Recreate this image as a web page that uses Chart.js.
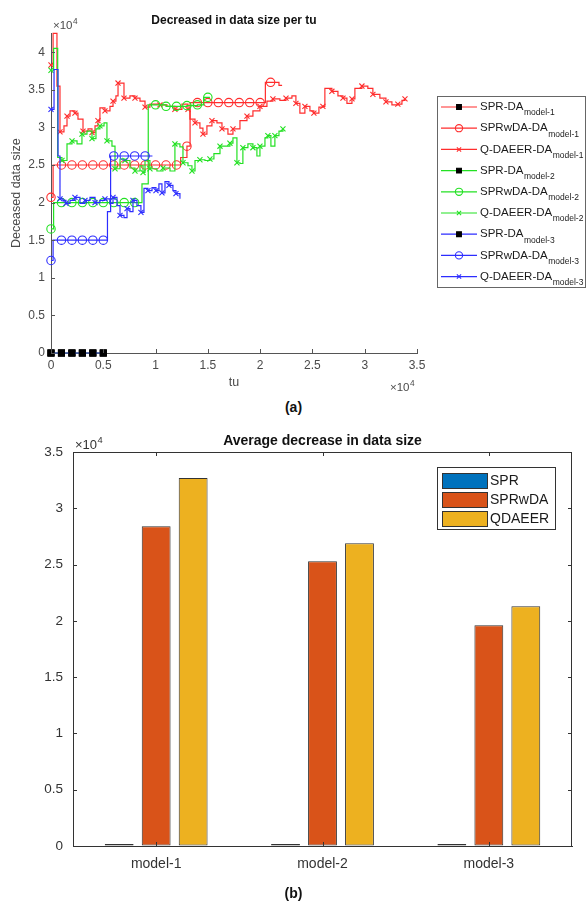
<!DOCTYPE html>
<html>
<head>
<meta charset="utf-8">
<script src="https://cdn.jsdelivr.net/npm/chart.js@4.4.0/dist/chart.umd.min.js"></script>
<style>
  body { margin: 0; background: #fff; }
  #wrap { position: relative; width: 587px; height: 919px; font-family: "Liberation Sans", Arial, sans-serif; }
  canvas { position: absolute; left: 0; }
  .cap { position: absolute; left: 0; width: 587px; text-align: center; font-weight: bold; font-size: 14px; color: #111; }
</style>
</head>
<body>
<div id="wrap">
  <canvas id="lineChart" width="587" height="398" style="top:0"></canvas>
  <div class="cap" style="top:399px">(a)</div>
  <canvas id="barChart" width="587" height="462" style="top:428px"></canvas>
  <div class="cap" style="top:885px">(b)</div>
</div>
<script>
// ---------- data (a): [tu, decreased data size] ----------
const models = ['model-1', 'model-2', 'model-3'];
const methods = ['SPR-DA', 'SPRwDA-DA', 'Q-DAEER-DA'];
const xTicksA = [0, 5000, 10000, 15000, 20000, 25000, 30000, 35000];
const yTicksA = [0, 5000, 10000, 15000, 20000, 25000, 30000, 35000, 40000];

const sprM1 = [[0,0],[1000,0],[2000,0],[3000,0],[4000,0],[5000,0]];
const sprM2 = [[0,0],[1000,0],[2000,0],[3000,0],[4000,0],[5000,0]];
const sprM3 = [[0,0],[1000,0],[2000,0],[3000,0],[4000,0],[5000,0]];

const sprwdaM1 = [[0,20700],[200,25000],[1000,25000],[2000,25000],[3000,25000],[4000,25000],[5000,25000],
  [6000,25000],[7000,25000],[8000,25000],[9000,25000],[10000,25000],[11000,25000],[12000,25000],
  [12400,26000],[13000,27500],[13300,33300],[14000,33300],[15000,33300],[16000,33300],[17000,33300],
  [18000,33300],[19000,33300],[20000,33300],[20500,36000],[21000,36000],[21800,35600],[22100,35600]];
const sprwdaM2 = [[0,16500],[250,20000],[1000,20000],[2000,20000],[3000,20000],[4000,20000],[5000,20000],
  [6000,20000],[7000,20000],[8000,20000],[8700,22500],[9300,33000],[10000,33000],[11000,32800],
  [12000,32800],[13000,32900],[14000,33000],[14600,34000],[15000,34000],[15200,34000]];
const sprwdaM3 = [[0,12300],[200,15000],[1000,15000],[2000,15000],[3000,15000],[4000,15000],[5000,15000],
  [5400,18800],[5700,26200],[6000,26200],[7000,26200],[8000,26200],[9000,26200],[9700,26200]];

const qdaeerM1 = [[0,38300],[200,42500],[570,35500],[860,29400],[1240,30200],[1530,31500],[1820,32200],
  [2290,31900],[2580,31100],[3060,29500],[3540,29800],[3920,29300],[4210,30200],[4490,30900],[4680,32600],
  [5160,32200],[5640,32800],[5930,33500],[6210,34200],[6410,35900],[6880,35900],[6980,33900],[7550,34200],
  [8030,33900],[8510,33500],[8990,32700],[9460,33100],[10420,33000],[11090,32800],[11850,32400],
  [12520,33100],[13100,32400],[13290,31100],[13770,30600],[14240,29900],[14530,29100],[14910,30200],
  [15390,30900],[15870,30600],[16350,29800],[16920,29100],[17400,29800],[18070,30900],[18740,31500],
  [19310,32200],[19980,32800],[20650,33500],[21220,33800],[21890,33600],[22470,33900],[23040,34200],
  [23420,33200],[23800,31900],[24280,32800],[24760,32200],[25140,31900],[25620,32700],[26000,32800],
  [26190,35200],[26860,34800],[27440,34200],[27920,33900],[28300,33200],[28780,33800],[29060,35200],
  [29730,35500],[30300,35200],[30780,34400],[31450,33900],[32030,33400],[32600,33000],[33170,33100],
  [33560,33600],[33850,33800]];
const qdaeerM2 = [[0,37600],[250,40500],[640,26000],[1050,25600],[1530,27800],[2010,28200],[2490,27800],
  [2960,29100],[3440,29500],[3920,28500],[4300,29800],[4680,30200],[5070,30600],[5350,28200],[5830,27500],
  [6120,24500],[6600,25800],[7070,25600],[7550,24600],[8030,24200],[8510,24900],[8800,24000],[8990,25600],
  [9460,24500],[10130,24200],[10710,24600],[11380,24200],[11850,27800],[12330,27400],[12620,25300],
  [13100,24900],[13480,24200],[13770,25600],[14240,25700],[14720,25600],[15200,25800],[15580,26500],
  [16160,27500],[16630,27500],[17110,27900],[17400,28600],[17780,25300],[18070,25200],[18350,27300],
  [18830,27800],[19310,27300],[19690,26200],[19980,27500],[20460,28600],[20740,28900],[21030,27500],
  [21410,28900],[21800,29500],[22180,29800]];
const qdaeerM3 = [[0,32400],[290,37700],[670,26200],[860,20500],[1150,20300],[1430,19900],[1820,20300],
  [2290,20700],[2770,19900],[3250,20300],[3730,20700],[4210,20000],[4680,20300],[5160,20500],[5640,19900],
  [5930,20700],[6310,19600],[6600,18300],[6980,18000],[7270,19200],[7550,18800],[7840,20300],[8220,19600],
  [8600,18700],[8890,21900],[9270,21600],[9660,22000],[10040,21600],[10320,22500],[10610,21300],
  [10900,22800],[11280,22300],[11660,21600],[11950,21200],[12330,20500]];

// ---------- data (b) ----------
const barCats = ['model-1', 'model-2', 'model-3'];
const barNames = ['SPR', 'SPRwDA', 'QDAEER'];
const barSPR = [0, 0, 0];
const barSPRwDA = [28400, 25300, 19600];
const barQDAEER = [32700, 26900, 21300];

// ---------- styles ----------
const FONT = '"Liberation Sans", Arial, sans-serif';
Chart.defaults.font.family = FONT;
const lineColors = ['rgb(255,45,45)', 'rgb(35,225,35)', 'rgb(45,45,255)'];
const markerStyles = ['rect', 'circle', 'crossRot'];
const markerSizes = [4.2, 4.2, 3.6];
const legendSizes = [3.4, 3.6, 3];
const barColors = ['#0072BD', '#D95319', '#EDB120'];

function showMarker(k, ctx) {
  const i = ctx.dataIndex;
  if (k === 2) return i === 0 || (i > 2 && i % 2 === 1);
  return ctx.raw && ctx.raw.x % 1000 === 0;
}

function drawExponent(ctx, x, y, size, color) {
  ctx.save();
  ctx.fillStyle = color;
  ctx.textAlign = 'left';
  ctx.textBaseline = 'alphabetic';
  ctx.font = size + 'px ' + FONT;
  ctx.fillText('\u00d710', x, y);
  const w = ctx.measureText('\u00d710').width;
  ctx.font = (size * 0.72) + 'px ' + FONT;
  ctx.fillText('4', x + w + 0.5, y - size * 0.45);
  ctx.restore();
}

function strokeLine(ctx, x1, y1, x2, y2) {
  ctx.beginPath(); ctx.moveTo(x1, y1); ctx.lineTo(x2, y2); ctx.stroke();
}

// inward ticks (+ optional box) like the original plots
const axisDeco = {
  id: 'axisDeco',
  afterDraw(chart, args, opts) {
    const {ctx, chartArea: a, scales} = chart;
    ctx.save();
    ctx.strokeStyle = opts.color;
    ctx.lineWidth = 1;
    const t = opts.tick;
    scales.y.ticks.forEach((tk, i) => {
      const py = Math.round(scales.y.getPixelForTick(i)) + 0.5;
      strokeLine(ctx, a.left, py, a.left + t, py);
      if (opts.box) strokeLine(ctx, a.right, py, a.right - t, py);
    });
    scales.x.ticks.forEach((tk, i) => {
      const px = Math.round(scales.x.getPixelForTick(i)) + 0.5;
      strokeLine(ctx, px, a.bottom, px, a.bottom - t);
      if (opts.box) strokeLine(ctx, px, a.top, px, a.top + t);
    });
    if (opts.box) {
      strokeLine(ctx, a.left, Math.round(a.top) + 0.5, a.right, Math.round(a.top) + 0.5);
      strokeLine(ctx, Math.round(a.right) - 0.5, a.top, Math.round(a.right) - 0.5, a.bottom);
    }
    ctx.restore();
    (opts.exps || []).forEach(e => drawExponent(ctx, e[0], e[1], e[2], opts.textColor));
  }
};

// legend with subscripts for chart (a)
const lineLegend = {
  id: 'lineLegend',
  afterDraw(chart) {
    const ctx = chart.ctx;
    ctx.save();
    ctx.fillStyle = '#fff';
    ctx.strokeStyle = '#666';
    ctx.lineWidth = 1;
    ctx.fillRect(437.5, 96.5, 148, 191);
    ctx.strokeRect(437.5, 96.5, 148, 191);
    chart.data.datasets.forEach((ds, i) => {
      const cy = 107 + i * 21.2;
      ctx.strokeStyle = ds.borderColor;
      ctx.lineWidth = 1.2;
      strokeLine(ctx, 441, cy, 477, cy);
      ctx.fillStyle = ds.pointBackgroundColor;
      ctx.strokeStyle = ds.pointBorderColor;
      ctx.lineWidth = ds.pointBorderWidth;
      Chart.helpers.drawPoint(ctx, {pointStyle: ds.pointStyle, radius: legendSizes[ds.kind],
        borderWidth: ds.pointBorderWidth, rotation: 0}, 459, cy);
      ctx.fillStyle = '#1a1a1a';
      ctx.textAlign = 'left';
      ctx.textBaseline = 'middle';
      ctx.font = '11.5px ' + FONT;
      ctx.fillText(ds.mainLabel, 480, cy);
      const w = ctx.measureText(ds.mainLabel).width;
      ctx.font = '8.5px ' + FONT;
      ctx.fillText(ds.subLabel, 480 + w + 0.5, cy + 6);
    });
    ctx.restore();
  }
};

// legend inside the axes for chart (b)
const barLegend = {
  id: 'barLegend',
  afterDraw(chart) {
    const ctx = chart.ctx;
    ctx.save();
    ctx.fillStyle = '#fff';
    ctx.strokeStyle = '#333';
    ctx.lineWidth = 1;
    ctx.fillRect(437.5, 39.5, 118, 62);
    ctx.strokeRect(437.5, 39.5, 118, 62);
    chart.data.datasets.forEach((ds, i) => {
      const cy = 53 + i * 19;
      ctx.fillStyle = ds.backgroundColor;
      ctx.fillRect(442.5, cy - 7.5, 45, 15);
      ctx.strokeRect(442.5, cy - 7.5, 45, 15);
      ctx.fillStyle = '#1a1a1a';
      ctx.textAlign = 'left';
      ctx.textBaseline = 'middle';
      ctx.font = '14px ' + FONT;
      ctx.fillText(ds.label, 490, cy + 0.5);
    });
    ctx.restore();
  }
};

// ---------- chart (a) ----------
const seriesTable = [
  [sprM1, sprwdaM1, qdaeerM1],
  [sprM2, sprwdaM2, qdaeerM2],
  [sprM3, sprwdaM3, qdaeerM3]
];
const lineSets = [];
seriesTable.forEach((row, m) => row.forEach((pts, k) => {
  lineSets.push({
    label: methods[k] + ' ' + models[m],
    mainLabel: methods[k],
    subLabel: models[m],
    kind: k,
    data: pts.map(p => ({x: p[0], y: p[1]})),
    borderColor: lineColors[m],
    borderWidth: 1.2,
    stepped: true,
    fill: false,
    clip: false,
    pointStyle: markerStyles[k],
    pointRadius: ctx => showMarker(k, ctx) ? markerSizes[k] : 0,
    pointBorderColor: k === 0 ? '#000' : lineColors[m],
    pointBackgroundColor: k === 0 ? '#000' : 'rgba(0,0,0,0)',
    pointBorderWidth: 1.1,
    order: 9 - lineSets.length
  });
}));

const gray = '#4a4a4a';
new Chart(document.getElementById('lineChart'), {
  type: 'line',
  data: {datasets: lineSets},
  options: {
    responsive: false,
    animation: false,
    events: [],
    layout: {padding: {left: 0, right: 170, top: 0, bottom: 0}},
    plugins: {
      legend: {display: false},
      tooltip: {enabled: false},
      title: {display: true, text: 'Decreased in data size per tu', fullSize: false, color: '#111',
        font: {size: 12, weight: 'bold'}, padding: {top: 13, bottom: 6}},
      axisDeco: {color: '#555', tick: 4, box: false, textColor: gray,
        exps: [[53, 29, 11.5], [390, 391, 11.5]]}
    },
    scales: {
      x: {
        type: 'linear', min: 0, max: 35000,
        afterBuildTicks: s => { s.ticks = xTicksA.map(v => ({value: v})); },
        ticks: {callback: v => v / 1e4, color: gray, font: {size: 12}, padding: 5, maxRotation: 0, autoSkip: false},
        grid: {display: true, drawOnChartArea: false, drawTicks: false},
        border: {display: true, color: '#555', width: 1},
        title: {display: true, text: 'tu', color: gray, font: {size: 12.5}, padding: {top: 0, bottom: 8}},
        afterFit: s => { s.height = 45; }
      },
      y: {
        type: 'linear', min: 0, max: 42500,
        afterBuildTicks: s => { s.ticks = yTicksA.map(v => ({value: v})); },
        ticks: {callback: v => v / 1e4, color: gray, font: {size: 12}, padding: 6, autoSkip: false},
        grid: {display: true, drawOnChartArea: false, drawTicks: false},
        border: {display: true, color: '#555', width: 1},
        title: {display: true, text: 'Deceased data size', color: gray, font: {size: 12.5},
          padding: {top: 9, bottom: 0}},
        afterFit: s => { s.width = 51; }
      }
    }
  },
  plugins: [axisDeco, lineLegend]
});

// ---------- chart (b) ----------
const barValues = [barSPR, barSPRwDA, barQDAEER];
new Chart(document.getElementById('barChart'), {
  type: 'bar',
  data: {
    labels: barCats,
    datasets: barNames.map((n, i) => ({
      label: n,
      data: barValues[i],
      backgroundColor: barColors[i],
      borderColor: '#333',
      borderWidth: 1,
      borderSkipped: false,
      minBarLength: i === 0 ? 2 : 0,
      barPercentage: 0.78,
      categoryPercentage: 0.667
    }))
  },
  options: {
    responsive: false,
    animation: false,
    events: [],
    layout: {padding: {left: 0, right: 15, top: 0, bottom: 0}},
    plugins: {
      legend: {display: false},
      tooltip: {enabled: false},
      title: {display: true, text: 'Average decrease in data size', fullSize: false, color: '#111',
        font: {size: 14, weight: 'bold'}, padding: {top: 4.6, bottom: 2.6}},
      axisDeco: {color: '#333', tick: 4, box: true, textColor: '#333', exps: [[75, 21, 13]]}
    },
    scales: {
      x: {
        ticks: {color: '#333', font: {size: 14}, padding: 10},
        grid: {display: true, drawOnChartArea: false, drawTicks: false},
        border: {display: true, color: '#333', width: 1},
        afterFit: s => { s.height = 44; }
      },
      y: {
        min: 0, max: 35000,
        ticks: {stepSize: 5000, callback: v => v / 1e4, color: '#333', font: {size: 13.5}, padding: 10},
        grid: {display: true, drawOnChartArea: false, drawTicks: false},
        border: {display: true, color: '#333', width: 1},
        afterFit: s => { s.width = 73; }
      }
    }
  },
  plugins: [axisDeco, barLegend]
});
</script>
</body>
</html>
